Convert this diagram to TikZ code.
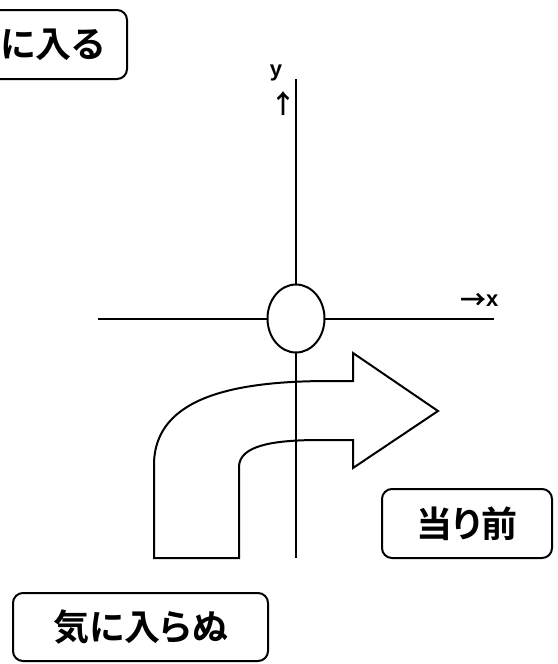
\documentclass[tikz,border=0pt]{standalone}
\usepackage{fontspec}
\setsansfont{Liberation Sans}
\newfontfamily\jp{Noto Sans CJK JP}[BoldFont=* Bold, RawFeature=+palt]
\newfontfamily\jparr{Noto Sans CJK JP}[BoldFont=* Bold]
\usetikzlibrary{shapes.geometric}
\tikzset{
  lbl/.style={draw=black, line width=2pt, rounded corners=10pt, inner sep=0pt, font=\jp\bfseries\fontsize{36}{36}\selectfont},
  ax/.style={line width=2pt, draw=black},
  lettr/.style={inner sep=0pt, font=\sffamily\bfseries\fontsize{22}{22}\selectfont},
  arr/.style={inner sep=0pt, font=\jparr\bfseries\fontsize{26}{26}\selectfont}
}
\begin{document}
\begin{tikzpicture}[x=1pt,y=-1pt]
\useasboundingbox (0,0) rectangle (557,664);
\clip (0,0) rectangle (557,664);
% axes
\coordinate (ytop) at (296,79);
\coordinate (ybot) at (296,558);
\coordinate (xl) at (98,318.5);
\coordinate (xr) at (494,318.5);
\draw[ax] (ytop) -- (ybot);
\draw[ax] (xl) -- (xr);
\node[draw=black, line width=2pt, fill=white, ellipse, minimum width=57pt, minimum height=68pt, inner sep=0pt] (o) at (296,318.5) {};
% axis labels
\node[lettr] (ylab) at (276,73) {y};
\node[arr] (yarr) at (283,104) {↑};
\node[lettr, anchor=west] (xlab) at (486,301) {x};
\node[arr, anchor=east] (xarr) at ([xshift=1pt]xlab.west) {→};
% bent arrow
\draw[ax, line join=miter]
  (154,558) -- (154,465)
  .. controls (154,395) and (240,381) .. (330,381)
  -- (353,381) -- (353,353) -- (438,411) -- (353,468) -- (353,440) -- (320,440)
  .. controls (275,440) and (239,445) .. (239,467)
  -- (239,558) -- cycle;
% labels
\node[lbl, minimum width=188pt, minimum height=69pt] (kiniiru) at (33,44.5) {\hspace*{4pt}気に入る};
\node[lbl, minimum width=255pt, minimum height=68pt] (kiniiranu) at (140.5,627) {気に入らぬ};
\node[lbl, minimum width=170pt, minimum height=69pt] (atarimae) at (467,523.5) {当り前};
\end{tikzpicture}
\end{document}
